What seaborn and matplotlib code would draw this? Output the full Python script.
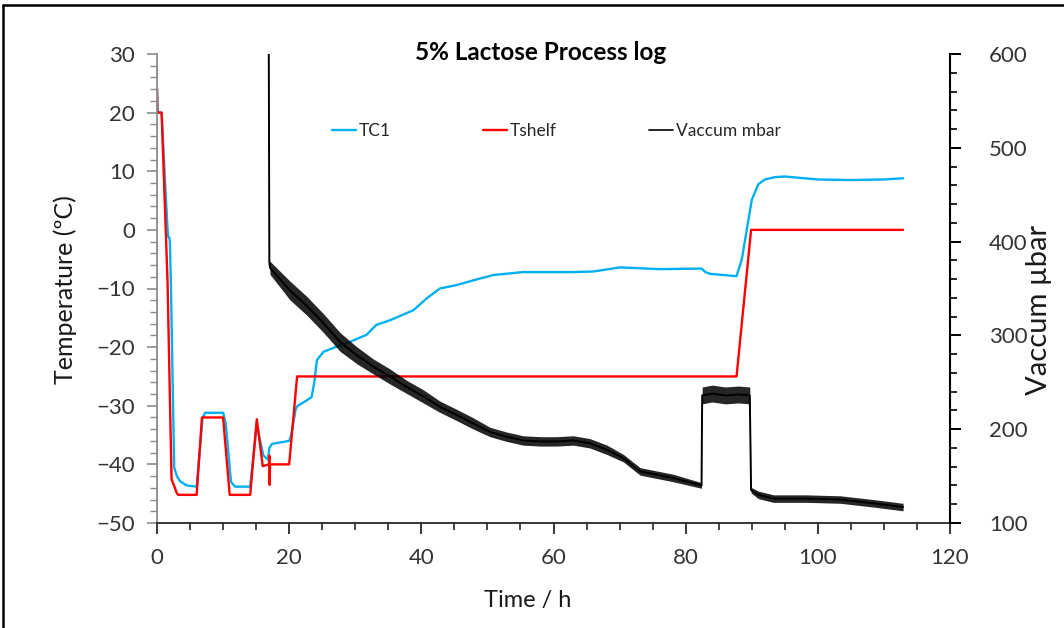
import matplotlib
matplotlib.use("Agg")
import matplotlib.pyplot as plt
from matplotlib.lines import Line2D
from matplotlib.ticker import MultipleLocator
import numpy as np
import pandas as pd
import seaborn as sns

# ---------------- data ----------------
tc1_t = [0.0, 0.1, 0.7, 1.2, 1.6, 1.7, 1.85, 1.95, 2.1, 2.6, 3.0, 3.5, 4.5, 6.0, 6.9, 7.3, 10.0,
         10.4, 11.2, 11.8, 14.1, 15.1, 15.6, 16.1, 16.8, 17.0, 17.4, 20.0, 20.3, 21.0, 21.3,
         22.5, 23.4, 23.8, 24.2, 25.2, 27.2, 29.2, 31.7, 33.2, 35.3, 38.8, 40.8, 42.8, 45.4,
         47.9, 50.9, 55.4, 63.0, 66.0, 70.1, 76.1, 82.4, 83.0, 83.7, 87.7, 88.5, 90.0, 91.0,
         92.0, 93.5, 95.0, 100.0, 105.0, 110.0, 112.9]
tc1_v = [24.0, 20.0, 20.0, 8.5, 0.0, -1.2, -1.3, -2.0, -9.0, -40.5, -42.0, -42.9, -43.6, -43.8,
         -32.0, -31.2, -31.2, -33.0, -43.0, -43.8, -43.8, -33.0, -36.0, -38.5, -39.2, -37.2,
         -36.5, -36.0, -35.0, -30.5, -30.0, -29.2, -28.5, -26.0, -22.2, -20.8, -19.9, -19.1,
         -17.9, -16.2, -15.4, -13.7, -11.7, -10.0, -9.4, -8.6, -7.7, -7.2, -7.2, -7.1, -6.4,
         -6.7, -6.6, -7.2, -7.5, -7.9, -5.0, 5.1, 7.8, 8.6, 9.0, 9.1, 8.6, 8.5, 8.6, 8.8]

shelf_t = [0.0, 0.0, 0.05, 0.7, 1.6, 2.2, 3.0, 3.2, 6.0, 6.8, 10.0, 11.0, 14.1, 15.1, 16.0,
           16.95, 17.0, 17.05, 17.1, 20.0, 21.2, 87.7, 89.9, 112.9]
shelf_v = [24.2, 24.2, 20.0, 20.0, -9.0, -42.5, -44.9, -45.2, -45.2, -32.0, -32.0, -45.2,
           -45.2, -32.3, -40.3, -40.0, -38.5, -43.5, -40.0, -40.0, -25.0, -25.0, 0.0, 0.0]

vac_t = [16.9, 17.0, 17.1, 20.1, 22.6, 25.2, 27.7, 30.2, 32.7, 35.3, 37.8, 40.3, 42.8, 45.4,
         47.9, 50.4, 52.9, 55.4, 58.0, 60.5, 63.0, 65.5, 68.1, 70.6, 73.1, 78.1, 82.4, 82.5,
         84.0, 86.0, 88.0, 89.7, 89.9, 91.0, 93.3, 98.3, 103.4, 108.4, 112.9]
vac_v = [650, 378, 372, 348, 332, 313, 293, 279, 267, 256, 245, 235, 224, 215, 206, 197, 192,
         188, 187, 187, 188, 185, 178, 169, 155, 148, 140, 236, 238, 236, 237, 236, 135, 130,
         126, 126, 125, 121, 117]
# half-width of the noisy band seen around the vacuum trace (µbar)
vac_spread = [0, 0, 7, 10, 10, 10, 10, 9, 8, 8, 7, 7, 6, 6, 6, 5, 5, 5, 5, 5, 5, 5, 5, 4, 4, 4, 3,
              9, 9, 9, 9, 9, 3, 4, 4, 4, 4, 4, 4]

x_ticks = [0, 20, 40, 60, 80, 100, 120]
temp_ticks = [-50, -40, -30, -20, -10, 0, 10, 20, 30]
vac_ticks = [100, 200, 300, 400, 500, 600]

title = "5% Lactose Process log"
legend_labels = ["TC1", "Tshelf", "Vaccum mbar"]

# ---------------- style ----------------
sns.set_theme(style="white")
plt.rcParams['font.family'] = ['Lato', 'DejaVu Sans']

W, H = 1064, 628
fig = plt.figure(figsize=(W / 100, H / 100), dpi=100)
ax = fig.add_axes([157 / W, 1 - 523 / H, (950 - 157) / W, (523 - 54) / H])
ax2 = ax.twinx()

BLUE = "#00B0F0"
RED = "#FF0000"

df_tc1 = pd.DataFrame({"t": tc1_t, "v": tc1_v})
df_shelf = pd.DataFrame({"t": shelf_t, "v": shelf_v})
df_vac = pd.DataFrame({"t": vac_t, "v": vac_v, "s": vac_spread})

sns.lineplot(data=df_tc1, x="t", y="v", ax=ax, color=BLUE, lw=1.7, sort=False,
             estimator=None, legend=False)
sns.lineplot(data=df_shelf, x="t", y="v", ax=ax, color=RED, lw=1.7, sort=False,
             estimator=None, legend=False)

vt = df_vac["t"].to_numpy()
vv = df_vac["v"].to_numpy(dtype=float)
vs = df_vac["s"].to_numpy(dtype=float)
ax2.fill_between(vt, vv - vs, vv + vs, color="black", lw=0, alpha=0.85)
sns.lineplot(data=df_vac, x="t", y="v", ax=ax2, color="black", lw=1.4, sort=False,
             estimator=None, legend=False)

# ---------------- axes ----------------
ax.set_xlim(0, 120)
ax.set_ylim(-50, 30)
ax2.set_ylim(100, 600)
ax.set_xticks(x_ticks)
ax.set_yticks(temp_ticks)
ax2.set_yticks(vac_ticks)
ax.xaxis.set_minor_locator(MultipleLocator(5))
ax.yaxis.set_minor_locator(MultipleLocator(2))
ax2.yaxis.set_minor_locator(MultipleLocator(20))

for a in (ax, ax2):
    a.set_facecolor("none")
    a.grid(False)
    a.spines["top"].set_visible(False)
ax.spines["right"].set_visible(False)
ax2.spines["left"].set_visible(False)
ax2.spines["bottom"].set_visible(False)
ax.spines["left"].set_color("#8C8C8C")
ax.spines["left"].set_linewidth(1.3)
ax.spines["bottom"].set_color("#262626")
ax.spines["bottom"].set_linewidth(1.3)
ax2.spines["right"].set_color("#000000")
ax2.spines["right"].set_linewidth(1.5)

tick_col = "#333333"
ax.tick_params(axis="x", which="major", bottom=True, direction="out", length=8, width=1.3,
               color="#262626", pad=10, labelsize=16, labelcolor=tick_col)
ax.tick_params(axis="x", which="minor", bottom=True, direction="out", length=5, width=1.2,
               color="#262626")
ax.tick_params(axis="y", which="major", left=True, right=False, direction="out", length=7,
               width=1.2, color="#8C8C8C", pad=9, labelsize=16, labelcolor=tick_col)
ax.tick_params(axis="y", which="minor", left=True, right=False, direction="out", length=5,
               width=1.0, color="#8C8C8C")
ax2.tick_params(axis="y", which="major", right=True, left=False, direction="out", length=8,
                width=1.4, color="black", pad=20, labelsize=16, labelcolor=tick_col)
ax2.tick_params(axis="y", which="minor", right=True, left=False, direction="out", length=5,
                width=1.2, color="black")

ax.set_xlabel("")
ax.set_ylabel("")
ax2.set_ylabel("")

fig.text(528 / W, 1 - 600 / H, "Time / h", ha="center", va="center", fontsize=17,
         color="#1a1a1a")
fig.text(65 / W, 1 - 290 / H, "Temperature (ºC)", ha="center", va="center", rotation=90,
         fontsize=18, color="#1a1a1a")
fig.text(1039 / W, 1 - 310 / H, "Vaccum µbar", ha="center", va="center", rotation=90,
         fontsize=21, color="#1a1a1a")
fig.text(541 / W, 1 - 53 / H, title, ha="center", va="center", fontsize=17.5,
         fontweight="bold", color="black")

handles = [Line2D([], [], color=BLUE, lw=1.7), Line2D([], [], color=RED, lw=1.7),
           Line2D([], [], color="black", lw=1.2)]
fig.legend(handles, legend_labels, loc="center left",
           bbox_to_anchor=(332 / W, 1 - 131 / H), ncol=3, frameon=False, fontsize=12.5,
           handlelength=1.4, handletextpad=0.15, columnspacing=5.3, borderpad=0,
           borderaxespad=0)

# outer frame (top and left edges visible in the reference)
fig.add_artist(Line2D([3 / W, 3 / W], [0, 1 - 5 / H], transform=fig.transFigure,
                      color="black", lw=1.8))
fig.add_artist(Line2D([3 / W, 1], [1 - 5 / H, 1 - 5 / H], transform=fig.transFigure,
                      color="black", lw=1.8))

fig.savefig("out.png", dpi=100, facecolor="white")
